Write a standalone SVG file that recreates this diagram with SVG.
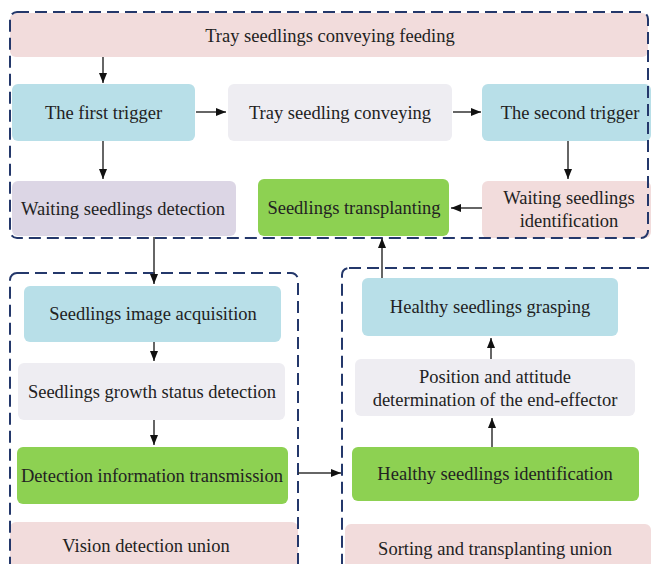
<svg xmlns="http://www.w3.org/2000/svg" width="651" height="564" viewBox="0 0 651 564">
<style>
.t{font-family:"Liberation Serif","Times New Roman",serif;font-size:18.5px;fill:#222;text-anchor:middle}
.pink{fill:#f2dcdc}.blue{fill:#b8dfe8}.gray{fill:#eeedf2}.lav{fill:#dcd6e5}.green{fill:#8dd152}
.dash{fill:none;stroke:#24386b;stroke-width:2;stroke-dasharray:12 6}
.c{stroke:#333;stroke-width:1.5;fill:none;marker-end:url(#ah)}
</style>
<defs>
<marker id="ah" viewBox="0 0 10 8" refX="10" refY="4" markerWidth="10" markerHeight="8" markerUnits="userSpaceOnUse" orient="auto">
<path d="M0,0 L10,4 L0,8 z" fill="#111"/>
</marker>
</defs>
<rect width="651" height="564" fill="#fff"/>
<g id="n1"><rect class="pink" x="10" y="13" width="638" height="44" rx="6"/><text class="t" x="330" y="41.5">Tray seedlings conveying feeding</text></g>
<g id="n2"><rect class="blue" x="12" y="84" width="183" height="57" rx="6"/><text class="t" x="103.5" y="119">The first trigger</text></g>
<g id="n3"><rect class="gray" x="228" y="84" width="224" height="57" rx="6"/><text class="t" x="340" y="119">Tray seedling conveying</text></g>
<g id="n4"><rect class="blue" x="482" y="84" width="169" height="57" rx="6"/><text class="t" x="570" y="119">The second trigger</text></g>
<g id="n5"><rect class="lav" x="12" y="181" width="224" height="55" rx="6"/><text class="t" x="123" y="215">Waiting seedlings detection</text></g>
<g id="n6"><rect class="green" x="258" y="179" width="191" height="57" rx="6"/><text class="t" x="354" y="214">Seedlings transplanting</text></g>
<g id="n7"><rect class="pink" x="482" y="181" width="169" height="57" rx="6"/><text class="t" x="569" y="204">Waiting seedlings</text><text class="t" x="569" y="227">identification</text></g>
<g id="n8"><rect class="blue" x="24" y="286" width="257" height="56" rx="6"/><text class="t" x="153" y="320">Seedlings image acquisition</text></g>
<g id="n9"><rect class="gray" x="18" y="363" width="267" height="57" rx="6"/><text class="t" x="152" y="398">Seedlings growth status detection</text></g>
<g id="n10"><rect class="green" x="17" y="447" width="271" height="57" rx="6"/><text class="t" x="152" y="482">Detection information transmission</text></g>
<g id="n11"><rect class="pink" x="10" y="522" width="288" height="50" rx="6"/><text class="t" x="146" y="552">Vision detection union</text></g>
<g id="n12"><rect class="blue" x="362" y="278" width="256" height="58" rx="6"/><text class="t" x="490" y="313">Healthy seedlings grasping</text></g>
<g id="n13"><rect class="gray" x="355" y="359" width="280" height="57" rx="6"/><text class="t" x="495" y="383">Position and attitude</text><text class="t" x="495" y="406">determination of the end-effector</text></g>
<g id="n14"><rect class="green" x="352" y="447" width="287" height="54" rx="6"/><text class="t" x="495" y="480">Healthy seedlings identification</text></g>
<g id="n15"><rect class="pink" x="345" y="524" width="306" height="50" rx="6"/><text class="t" x="495" y="555">Sorting and transplanting union</text></g>
<g id="containers">
<rect class="dash" x="10" y="12" width="638" height="226" rx="7"/>
<rect class="dash" x="10" y="273" width="288" height="300" rx="7"/>
<rect class="dash" x="342" y="268" width="320" height="305" rx="7"/>
</g>
<g id="connectors">
<line class="c" x1="103" y1="57" x2="103" y2="83"/>
<line class="c" x1="196" y1="112" x2="226" y2="112"/>
<line class="c" x1="453" y1="112" x2="481" y2="112"/>
<line class="c" x1="103" y1="141" x2="103" y2="179"/>
<line class="c" x1="568" y1="141" x2="568" y2="179"/>
<line class="c" x1="482" y1="208" x2="451" y2="208"/>
<line class="c" x1="154" y1="237" x2="154" y2="284"/>
<line class="c" x1="154" y1="342" x2="154" y2="361"/>
<line class="c" x1="154" y1="420" x2="154" y2="445"/>
<line class="c" x1="298" y1="473" x2="341" y2="473"/>
<line class="c" x1="492" y1="447" x2="492" y2="418"/>
<line class="c" x1="491" y1="359" x2="491" y2="338"/>
<line class="c" x1="382" y1="278" x2="382" y2="238"/>
</g>
</svg>
